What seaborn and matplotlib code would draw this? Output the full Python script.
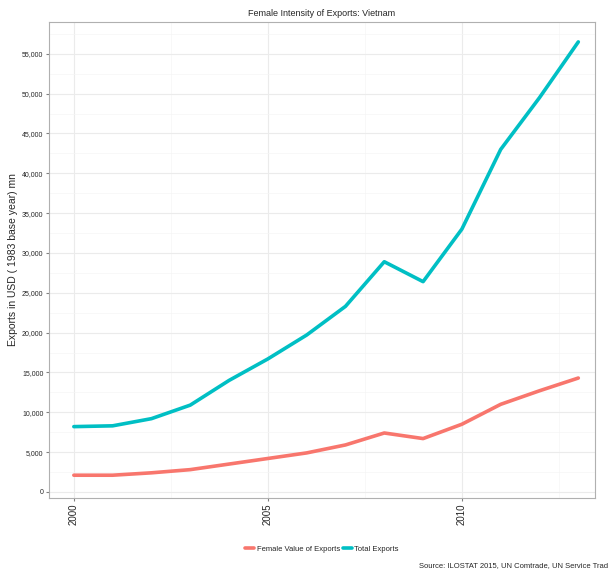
import pandas as pd
import matplotlib.pyplot as plt
import matplotlib.ticker as mticker
import seaborn as sns

# Data
years = list(range(2000, 2014))
female_exports = [2100, 2100, 2400, 2800, 3500, 4200, 4900, 5900, 7400, 6700, 8500, 11000, 12700, 14300]
total_exports = [8200, 8300, 9200, 10900, 14000, 16700, 19700, 23300, 28900, 26400, 33000, 43000, 49500, 56500]
series_names = ["Female Value of Exports", "Total Exports"]

df = pd.DataFrame({
    "year": years * 2,
    "value": female_exports + total_exports,
    "series": [series_names[0]] * len(years) + [series_names[1]] * len(years),
})

sns.set_style("white")
plt.rcParams["font.family"] = ["Liberation Sans", "DejaVu Sans"]

fig = plt.figure(figsize=(6.08, 5.71), dpi=100)
ax = fig.add_axes([0.0806, 0.128, 0.898, 0.8335])

sns.lineplot(
    data=df, x="year", y="value", hue="series",
    palette=["#F8766D", "#00BFC4"], linewidth=2.6, ax=ax, legend=True,
)

ax.set_xlim(1999.36, 2013.43)
ax.set_ylim(-750, 59000)
ax.set_xticks([2000, 2005, 2010])
ax.set_yticks(range(0, 55001, 5000))
ax.yaxis.set_major_formatter(mticker.FuncFormatter(lambda v, p: f"{int(v):,}"))
ax.set_yticks(range(2500, 57501, 5000), minor=True)
ax.set_xticks([2002.5, 2007.5, 2012.5], minor=True)

ax.grid(which="major", color="#ebebeb", linewidth=0.8)
ax.grid(which="minor", color="#f5f5f5", linewidth=0.5)
ax.set_axisbelow(True)
for s in ax.spines.values():
    s.set_color("#b0b0b0")
    s.set_linewidth(0.8)

ax.tick_params(axis="y", which="major", labelsize=5, length=2, color="#808080", pad=2, left=True)
ax.tick_params(axis="x", which="major", labelsize=7, length=2, color="#808080", pad=2, bottom=True, labelrotation=90)
ax.tick_params(which="minor", length=0)

ax.set_xlabel("")
ax.set_ylabel("Exports in USD ( 1983 base year) mn", fontsize=7.5, labelpad=3)
ax.set_title("Female Intensity of Exports: Vietnam", fontsize=6.5, pad=4)

ax.legend(
    title=None, loc="center", bbox_to_anchor=(0.5, -0.108), ncol=2, frameon=False,
    fontsize=5.5, handlelength=1.2, handletextpad=0.3, columnspacing=0.4,
)

fig.text(1.0, 0.004, "Source: ILOSTAT 2015, UN Comtrade, UN Service Trad",
         ha="right", va="bottom", fontsize=5.5)

fig.savefig("out.png", dpi=100)
